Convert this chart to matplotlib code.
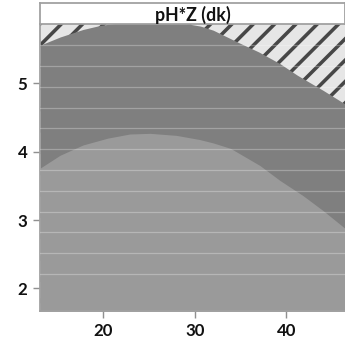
import matplotlib
matplotlib.use("Agg")
import matplotlib.pyplot as plt
import numpy as np

# outer contour boundary (dark region top edge)
outer_x = [13.1, 15.3, 17.8, 19.7, 22.5, 25.1, 28.0, 30.6, 32.0, 34.6, 37.0, 39.3, 41.2, 44.0, 46.4]
outer_y = [5.56, 5.68, 5.79, 5.85, 5.90, 5.92, 5.90, 5.84, 5.78, 5.61, 5.46, 5.29, 5.12, 4.90, 4.70]

# inner contour boundary (light region top edge)
inner_x = [13.1, 15.3, 17.8, 20.5, 22.9, 25.1, 28.0, 30.5, 32.0, 33.9, 37.1, 39.3, 41.8, 44.0, 46.4]
inner_y = [3.76, 3.95, 4.10, 4.20, 4.26, 4.27, 4.24, 4.18, 4.13, 4.05, 3.80, 3.58, 3.36, 3.14, 2.88]

x_ticks = [20, 30, 40]
y_ticks = [2, 3, 4, 5]
title = "pH*Z (dk)"

x_lim = (13.1, 46.4)
y_lim = (1.67, 5.87)

DPI = 128
plt.rcParams['font.family'] = ['Lato', 'DejaVu Sans']
plt.rcParams['hatch.linewidth'] = 2.0

fig = plt.figure(figsize=(345 / DPI, 344 / DPI), dpi=DPI)
ax = fig.add_axes([40 / 345, 33 / 344, 305 / 345, 287 / 344])
ax.set_xlim(*x_lim)
ax.set_ylim(*y_lim)

# hatched background (outside limits)
ax.fill_between(x_lim, y_lim[0], y_lim[1], facecolor='#e6e6e6',
                edgecolor='#474747', hatch='//', linewidth=0, zorder=0)
ax.fill_between(outer_x, y_lim[0], outer_y, color='#7f7f7f', linewidth=0, zorder=1)
ax.fill_between(inner_x, y_lim[0], inner_y, color='#9a9a9a', linewidth=0, zorder=2)

# faint rendering strips
for yy in np.linspace(5.56, 2.21, 12):
    ax.axhline(yy, color='white', alpha=0.28, lw=0.7, zorder=3)

ax.set_xticks(x_ticks)
ax.set_yticks(y_ticks)
ax.tick_params(length=4, width=0.8, color='#909090', pad=3,
               labelsize=9.5, labelcolor='#111111')
for lab in ax.get_xticklabels() + ax.get_yticklabels():
    lab.set_fontweight('bold')
for side in ['top', 'right']:
    ax.spines[side].set_visible(False)
for side in ['left', 'bottom']:
    ax.spines[side].set_color('#a0a0a0')
    ax.spines[side].set_linewidth(1.0)

# header box with title
hax = fig.add_axes([40 / 345, 320 / 344, 305 / 345, 21 / 344])
hax.set_xticks([])
hax.set_yticks([])
for sp in hax.spines.values():
    sp.set_color('#a0a0a0')
    sp.set_linewidth(1.0)
hax.text(0.5, 0.45, title, ha='center', va='center', fontsize=10,
         fontweight='bold', color='#111111', transform=hax.transAxes)

fig.savefig('out.png', dpi=DPI)
